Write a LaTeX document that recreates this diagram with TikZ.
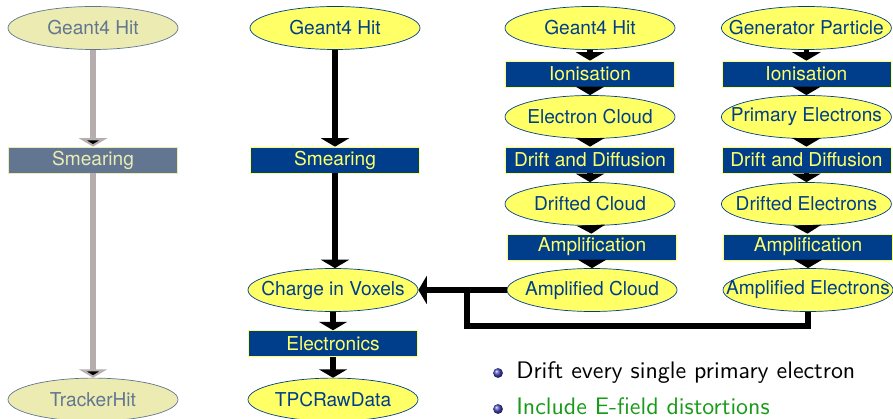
\documentclass[tikz,border=0pt]{standalone}
\usepackage{fontspec}
\newfontfamily\helv{TeX Gyre Heros}
\newfontfamily\notefont{lmsans10-regular.otf}
\usepackage{tikz}
\usetikzlibrary{arrows.meta,shapes.geometric}

\definecolor{hitfill}{RGB}{255,255,102}
\definecolor{hitblue}{RGB}{0,62,140}
\definecolor{fadefill}{RGB}{236,236,178}
\definecolor{fadeblue}{RGB}{98,118,146}
\definecolor{fadearrow}{RGB}{182,174,174}
\definecolor{itemgreen}{RGB}{25,155,25}
\definecolor{ballblue}{RGB}{70,70,190}

% keep the ellipse size fixed, whatever the label
\newcommand{\ctr}[1]{\makebox[0pt]{#1}}

\begin{document}
\begin{tikzpicture}[
		ell_style/.style={ellipse,draw=hitblue,fill=hitfill,text=hitblue,line width=0.5pt,
			minimum width=4.25cm,minimum height=1.075cm,inner sep=0pt,font=\helv\fontsize{13.6}{16}\selectfont},
		box_style/.style={rectangle,draw=hitfill,fill=hitblue,text=hitfill,line width=0.5pt,
			minimum width=4.225cm,minimum height=0.65cm,inner sep=0pt,font=\helv\fontsize{13.6}{16}\selectfont},
		ell_faded/.style={ell_style,draw=fadeblue,fill=fadefill,text=fadeblue},
		box_faded/.style={box_style,draw=fadefill,fill=fadeblue,text=fadefill},
		edge_style/.style={draw=black,line width=4pt,-{Triangle[width=20pt,length=6pt]}},
		edge_faded/.style={edge_style,draw=fadearrow},
		line_style/.style={draw=black,line width=4pt},
		ball_style/.style={circle,inner sep=0pt,minimum size=7pt,ball color=ballblue},
		item_style/.style={inner sep=0pt,anchor=base west,font=\notefont\fontsize{17}{20}\selectfont}]
		
		\useasboundingbox (0,0) rectangle (22.325,10.45);
		
		% simple smearing
		\node[ell_faded] (g1) at (2.325,9.75)  {\ctr{Geant4 Hit}};
		\node[box_faded] (sm1) at (2.325,6.45)  {Smearing};
		\node[ell_faded] (th1) at (2.325,0.46)  {\ctr{TrackerHit}};
		
		% smearing into voxels
		\node[ell_style] (g2) at (8.375,9.75)  {\ctr{Geant4 Hit}};
		\node[box_style] (sm2) at (8.375,6.45)  {Smearing};
		\node[ell_style] (cv) at (8.325,3.2)  {\ctr{Charge in Voxels}};
		\node[box_style] (el) at (8.325,1.86)  {Electronics};
		\node[ell_style] (raw) at (8.325,0.46)  {\ctr{TPCRawData}};
		
		% cloud chain
		\node[ell_style] (g3) at (14.75,9.75)  {\ctr{Geant4 Hit}};
		\node[box_style] (io3) at (14.75,8.6)  {Ionisation};
		\node[ell_style] (ec) at (14.75,7.525)  {\ctr{Electron Cloud}};
		\node[box_style] (dd3) at (14.75,6.45)  {Drift and Diffusion};
		\node[ell_style] (dc) at (14.75,5.35)  {\ctr{Drifted Cloud}};
		\node[box_style] (am3) at (14.8,4.275)  {Amplification};
		\node[ell_style] (ac) at (14.8,3.2)  {\ctr{Amplified Cloud}};
		
		% single electron chain
		\node[ell_style] (gp) at (20.16,9.75)  {\ctr{Generator Particle}};
		\node[box_style] (io4) at (20.16,8.6)  {Ionisation};
		\node[ell_style] (pe) at (20.16,7.525)  {\ctr{Primary Electrons}};
		\node[box_style] (dd4) at (20.16,6.45)  {Drift and Diffusion};
		\node[ell_style] (de) at (20.16,5.35)  {\ctr{Drifted Electrons}};
		\node[box_style] (am4) at (20.2,4.275)  {Amplification};
		\node[ell_style] (ae) at (20.2,3.2)  {\ctr{Amplified Electrons}};
		
		\coordinate (bend) at (11.675,2.3);
		
		\draw[edge_faded]  (g1) edge (sm1);
		\draw[edge_faded]  (sm1) edge (th1);
		
		\draw[edge_style]  (g2) edge (sm2);
		\draw[edge_style]  (sm2.south) -- (sm2.south |- cv.north);
		\draw[edge_style]  (cv) edge (el);
		\draw[edge_style]  (el) edge (raw);
		
		\draw[edge_style]  (g3) edge (io3);
		\draw[edge_style]  (io3) edge (ec);
		\draw[edge_style]  (ec) edge (dd3);
		\draw[edge_style]  (dd3) edge (dc);
		\draw[edge_style]  (dc) edge (am3);
		\draw[edge_style]  (am3) edge (ac);
		
		\draw[edge_style]  (gp) edge (io4);
		\draw[edge_style]  (io4) edge (pe);
		\draw[edge_style]  (pe) edge (dd4);
		\draw[edge_style]  (dd4) edge (de);
		\draw[edge_style]  (de) edge (am4);
		\draw[edge_style]  (am4) edge (ae);
		
		\draw[edge_style]  (ac) edge (cv);
		\draw[line_style]  (ae.south) |- (bend) -- (bend |- ac.west);
		
		% notes
		\node[ball_style] (b1) at (12.45,1.125) {};
		\node[item_style] (i1) at (12.9,1.0) {Drift every single primary electron};
		\node[ball_style] (b2) at (12.45,0.225) {};
		\node[item_style,text=itemgreen] (i2) at (12.9,0.1) {Include E-field distortions};

		\end{tikzpicture}
\end{document}
